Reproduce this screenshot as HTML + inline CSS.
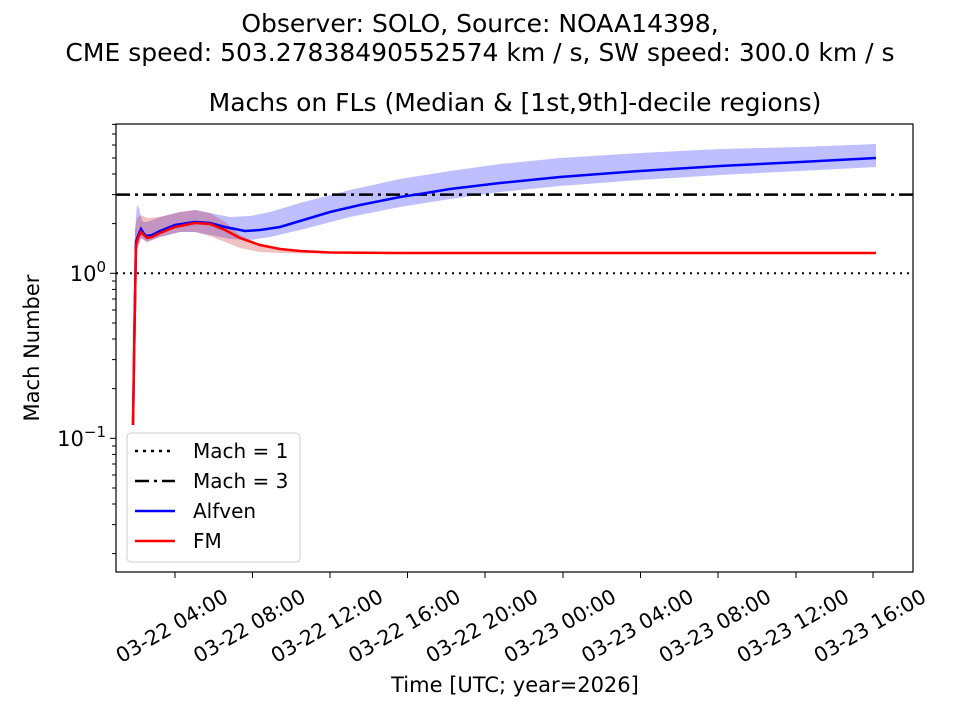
<!DOCTYPE html>
<html><head><meta charset="utf-8"><style>body{margin:0;background:#fff}svg{display:block}text{font-family:"DejaVu Sans","Liberation Sans",sans-serif;fill:#000}</style></head><body>
<svg width="960" height="720" viewBox="0 0 960 720" xmlns="http://www.w3.org/2000/svg">
<text x="480" y="32" font-size="25" text-anchor="middle">Observer: SOLO, Source: NOAA14398,</text>
<text x="480" y="61" font-size="25" text-anchor="middle">CME speed: 503.27838490552574 km / s, SW speed: 300.0 km / s</text>
<text x="515" y="111" font-size="25" text-anchor="middle">Machs on FLs (Median &amp; [1st,9th]-decile regions)</text>

<path d="M133,330 L135,230 L137,205 L139,208 L141,217 L143,222 L147,222 L160,217 L180,212 L195,210 L210,213 L230,217 L250,216 L270,212 L300,203 L350,190 L400,179 L450,171 L500,164 L560,158 L640,153 L720,149 L800,147 L876,144 L876,167 L800,171 L720,175 L640,180 L560,186 L500,192 L450,199 L400,207 L350,217 L300,230 L270,237 L250,240 L230,239 L210,235 L195,232 L180,232 L160,237 L147,242 L141,238 L137,250 L135,270 L133,440 Z" fill="#0000ff" fill-opacity="0.25"/>
<path d="M133,330 L135,230 L137,218 L141,215 L147,218 L160,217 L180,212 L195,210 L210,213 L225,222 L240,235 L260,245 L280,250 L300,252 L876,252 L876,253.5 L300,253.5 L280,253 L260,252 L240,248 L225,242 L210,236 L195,232 L180,232 L160,237 L147,242 L141,238 L137,250 L135,270 L133,440 Z" fill="#cc3333" fill-opacity="0.3"/>

<line x1="116" y1="273.3" x2="913" y2="273.3" stroke="#000" stroke-width="2" stroke-dasharray="2,5"/>
<line x1="116" y1="194.6" x2="913" y2="194.6" stroke="#000" stroke-width="2.5" stroke-dasharray="14,5,3,5"/>

<polyline fill="none" stroke="#0000ff" stroke-width="2.5" points="133,425 134.5,330 136,242 138,236 141,229 144,234 147,236 152,235 160,231 175,225 195,222 210,223 225,227 245,231 260,230 280,227 300,221 330,212 360,205 400,197 420,194 450,189 500,183 560,177 640,171 720,166 800,162 876,158"/>
<polyline fill="none" stroke="#ff0000" stroke-width="2.5" points="133,425 134.5,330 136,245 138,238 141,232 144,235 147,238 152,237 160,233 175,227 195,223 210,224 225,230 240,238 260,245 280,249 300,251 330,252.5 400,253 876,253"/>

<rect x="116" y="124" width="797" height="448" fill="none" stroke="#000" stroke-width="1.2"/>
<g stroke="#000" stroke-width="1">
<line x1="116" y1="273.3" x2="110" y2="273.3"/><line x1="116" y1="438.3" x2="110" y2="438.3"/>
<line x1="116" y1="223.6" x2="112" y2="223.6"/><line x1="116" y1="194.6" x2="112" y2="194.6"/><line x1="116" y1="174" x2="112" y2="174"/><line x1="116" y1="158" x2="112" y2="158"/><line x1="116" y1="145" x2="112" y2="145"/><line x1="116" y1="134" x2="112" y2="134"/><line x1="116" y1="124.4" x2="112" y2="124.4"/>
<line x1="116" y1="388.6" x2="112" y2="388.6"/><line x1="116" y1="359.6" x2="112" y2="359.6"/><line x1="116" y1="339" x2="112" y2="339"/><line x1="116" y1="323" x2="112" y2="323"/><line x1="116" y1="310" x2="112" y2="310"/><line x1="116" y1="299" x2="112" y2="299"/><line x1="116" y1="289.4" x2="112" y2="289.4"/><line x1="116" y1="281" x2="112" y2="281"/>
<line x1="116" y1="553.6" x2="112" y2="553.6"/><line x1="116" y1="524.6" x2="112" y2="524.6"/><line x1="116" y1="504" x2="112" y2="504"/><line x1="116" y1="488" x2="112" y2="488"/><line x1="116" y1="475" x2="112" y2="475"/><line x1="116" y1="464" x2="112" y2="464"/><line x1="116" y1="454.4" x2="112" y2="454.4"/><line x1="116" y1="446" x2="112" y2="446"/>
<line x1="175" y1="572" x2="175" y2="578"/><line x1="252.5" y1="572" x2="252.5" y2="578"/><line x1="330" y1="572" x2="330" y2="578"/><line x1="407.5" y1="572" x2="407.5" y2="578"/><line x1="485" y1="572" x2="485" y2="578"/><line x1="563" y1="572" x2="563" y2="578"/><line x1="640.5" y1="572" x2="640.5" y2="578"/><line x1="718" y1="572" x2="718" y2="578"/><line x1="796" y1="572" x2="796" y2="578"/><line x1="873" y1="572" x2="873" y2="578"/>
</g>
<text x="106" y="281" font-size="21" text-anchor="end">10<tspan font-size="15" dy="-9">0</tspan></text>
<text x="106" y="446" font-size="21" text-anchor="end">10<tspan font-size="15" dy="-9">−1</tspan></text>
<text transform="translate(39,348) rotate(-90)" font-size="21" text-anchor="middle">Mach Number</text>

<g font-size="20.5" text-anchor="middle" dominant-baseline="central">
<text transform="translate(172,626) rotate(-30)">03-22 04:00</text>
<text transform="translate(249.5,626) rotate(-30)">03-22 08:00</text>
<text transform="translate(327,626) rotate(-30)">03-22 12:00</text>
<text transform="translate(404.5,626) rotate(-30)">03-22 16:00</text>
<text transform="translate(482,626) rotate(-30)">03-22 20:00</text>
<text transform="translate(560,626) rotate(-30)">03-23 00:00</text>
<text transform="translate(637.5,626) rotate(-30)">03-23 04:00</text>
<text transform="translate(715,626) rotate(-30)">03-23 08:00</text>
<text transform="translate(793,626) rotate(-30)">03-23 12:00</text>
<text transform="translate(870,626) rotate(-30)">03-23 16:00</text>
</g>
<text x="515" y="692" font-size="21" text-anchor="middle">Time [UTC; year=2026]</text>

<rect x="127" y="433" width="173" height="129" rx="4" fill="#fff" fill-opacity="0.8" stroke="#ccc" stroke-width="1"/>
<line x1="135" y1="451" x2="175" y2="451" stroke="#000" stroke-width="2.5" stroke-dasharray="3,5"/>
<line x1="135" y1="481" x2="175" y2="481" stroke="#000" stroke-width="2.5" stroke-dasharray="14,5,3,5"/>
<line x1="135" y1="511" x2="175" y2="511" stroke="#0000ff" stroke-width="2.5"/>
<line x1="135" y1="541" x2="175" y2="541" stroke="#ff0000" stroke-width="2.5"/>
<g font-size="20">
<text x="193" y="458">Mach = 1</text>
<text x="193" y="488">Mach = 3</text>
<text x="193" y="518">Alfven</text>
<text x="193" y="548">FM</text>
</g>
</svg>
</body></html>
